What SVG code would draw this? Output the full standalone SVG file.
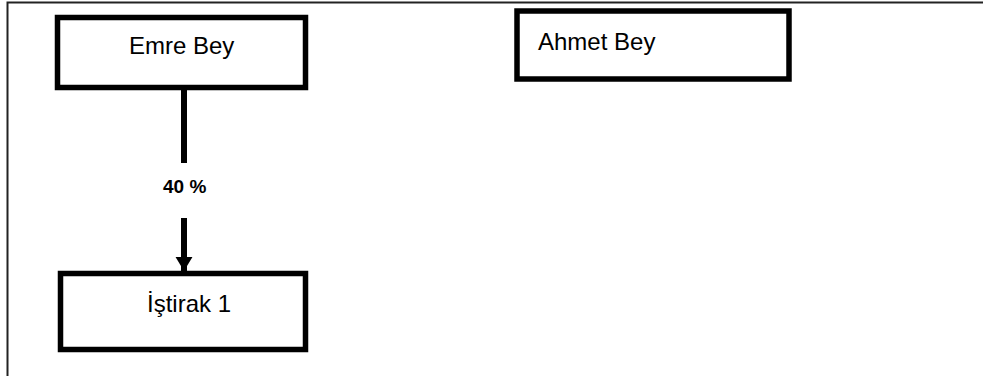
<svg xmlns="http://www.w3.org/2000/svg" width="983" height="376" viewBox="0 0 983 376">
  <style>
    .box { fill: #ffffff; stroke: #000000; stroke-width: 5.5; }
    .label { font-family: "Liberation Sans", Arial, sans-serif; font-size: 24px; fill: #000000; }
    .pct { font-family: "Liberation Sans", Arial, sans-serif; font-size: 19px; font-weight: bold; fill: #000000; }
    .edge { stroke: #000000; stroke-width: 6; fill: none; }
  </style>
  <defs>
    <marker id="arrowhead" markerWidth="2.4" markerHeight="2.9" refX="2.4" refY="1.45" orient="auto" markerUnits="strokeWidth">
      <path d="M0,0 L2.4,1.45 L0,2.9 Z" fill="#000000"/>
    </marker>
  </defs>

  <rect width="983" height="376" fill="#ffffff"/>

  <!-- outer frame -->
  <path d="M7.5,376 V2.5 H983" fill="none" stroke="#222222" stroke-width="2"/>

  <g id="connectors">
    <line class="edge" x1="184" y1="90" x2="184" y2="163"/>
    <line class="edge" x1="184" y1="218" x2="184" y2="271" marker-end="url(#arrowhead)"/>
    <text class="pct" x="163" y="193">40 %</text>
  </g>

  <g id="emre-bey">
    <rect class="box" x="57.5" y="17.5" width="248" height="70"/>
    <text class="label" x="129" y="54">Emre Bey</text>
  </g>

  <g id="ahmet-bey">
    <rect class="box" x="517" y="11" width="272" height="68"/>
    <text class="label" x="538" y="50">Ahmet Bey</text>
  </g>

  <g id="istirak-1">
    <rect class="box" x="60.5" y="273.5" width="245" height="76"/>
    <text class="label" x="147" y="312">İştirak 1</text>
  </g>
</svg>
